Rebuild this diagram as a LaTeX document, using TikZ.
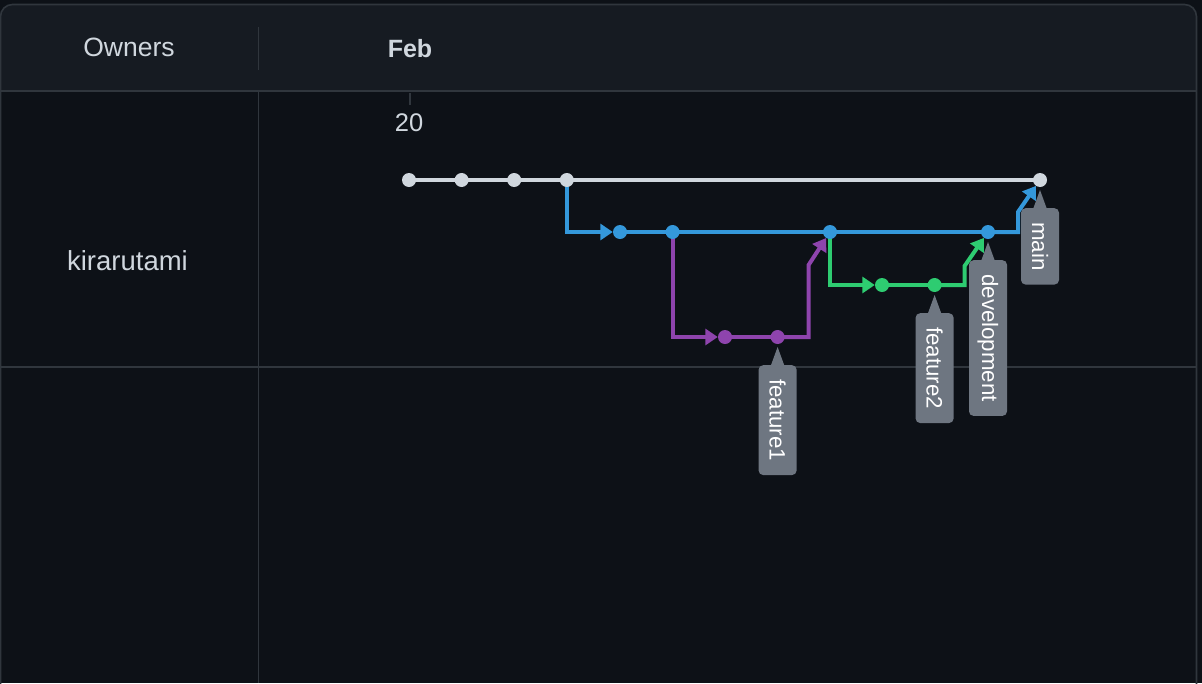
\documentclass[tikz,border=0pt]{standalone}
\usepackage{fontspec}
\setmainfont{Liberation Sans}
\usetikzlibrary{positioning,calc,arrows.meta,backgrounds}

\definecolor{bgdark}{HTML}{0D1117}
\definecolor{hdrdark}{HTML}{161B22}
\definecolor{rulegray}{HTML}{30363D}
\definecolor{txtgray}{HTML}{D0D7DE}
\definecolor{maingray}{HTML}{D0D7DE}
\definecolor{devblue}{HTML}{3498DB}
\definecolor{fonepurple}{HTML}{8E44AD}
\definecolor{ftwogreen}{HTML}{2ECC71}
\definecolor{tagfill}{HTML}{6E7681}

\newcommand{\branchtag}[3]{% commit, name, text
  \node[tagbox,anchor=west] (#2) at ([yshift=-28pt]#1.center) {#3};
  \fill[tagfill] ([xshift=-8pt,yshift=-4pt]#2.west) -- ([xshift=8pt,yshift=-4pt]#2.west)
    -- ([yshift=-10pt]#1.center) -- cycle;
}

\tikzset{
  commit/.style={circle,inner sep=0pt,minimum size=14pt},
  gcommit/.style={commit,fill=maingray},
  bcommit/.style={commit,fill=devblue},
  pcommit/.style={commit,fill=fonepurple},
  fcommit/.style={commit,fill=ftwogreen},
  branch/.style={line width=4pt},
  merge/.style={branch,-{Triangle[length=12.5pt,width=16pt]}},
  tagbox/.style={
    rotate=-90,
    fill=tagfill,
    rounded corners=4.5pt,
    text=white,
    font=\fontsize{22.3}{25}\selectfont,
    inner xsep=14pt,
    inner ysep=0pt,
    minimum height=38pt
  },
  hdr/.style={text=txtgray,font=\fontsize{26.5}{30}\selectfont},
  gridline/.style={draw=rulegray,line width=1.6pt}
}

\begin{document}
\begin{tikzpicture}[x=1pt,y=-1pt,node distance=52.6pt,on grid]
  \useasboundingbox (0,0) rectangle (1202,683);

  % header and owner
  \node[hdr] (own) at (129,47) {Owners};
  \node[hdr,font=\bfseries\fontsize{25}{30}\selectfont] (feb) at (410,49) {Feb};
  \node[hdr,font=\fontsize{25.5}{30}\selectfont] (day) at (409,123) {20};
  \node[hdr,font=\fontsize{27.5}{30}\selectfont] (usr) at (127.5,261) {kirarutami};

  % commits
  \node[gcommit] (g1) at (409,180) {};
  \node[gcommit,right=of g1] (g2) {};
  \node[gcommit,right=of g2] (g3) {};
  \node[gcommit,right=of g3] (g4) {};
  \node[gcommit] (g5) at (1040,180) {};
  \node[bcommit] (b1) at (620,232) {};
  \node[bcommit,right=of b1] (b2) {};
  \node[bcommit] (b3) at (830,232) {};
  \node[bcommit] (b4) at (988,232) {};
  \node[pcommit] (p1) at (725,337) {};
  \node[pcommit,right=of p1] (p2) {};
  \node[fcommit] (f1) at (882,285) {};
  \node[fcommit,right=of f1] (f2) {};

  \begin{scope}[on background layer]
    \fill[bgdark] (0,0) rectangle (1202,683);
    \begin{scope}
      \clip[rounded corners=12pt] (0.5,4.5) rectangle (1196.5,720);
      \fill[hdrdark] (0,0) rectangle (1202,91);
    \end{scope}
    \draw[gridline,rounded corners=12pt] (0.5,4.5) rectangle (1196.5,720);
    \draw[gridline] (0,91) -- (1197,91);
    \draw[gridline] (258.5,27) -- (258.5,70);
    \draw[gridline] (258.5,91) -- (258.5,683);
    \draw[gridline] (0,367) -- (1197,367);
    \draw[gridline] (410,93) -- (410,105);

    \draw[branch,maingray] (g1.center) -- (g5.center);
    \draw[merge,devblue] (g4.center) |- (b1);
    \draw[branch,devblue] (b1.center) -- (b4.center);
    \draw[merge,devblue] (b4.center) -- ++(30,0) -- ++(0,-20) -- (g5);
    \draw[merge,fonepurple] (b2.center) |- (p1);
    \draw[branch,fonepurple] (p1.center) -- (p2.center);
    \draw[merge,fonepurple] (p2.center) -- ++(31,0) -- ++(0,-72) -- (b3);
    \draw[merge,ftwogreen] (b3.center) |- (f1);
    \draw[branch,ftwogreen] (f1.center) -- (f2.center);
    \draw[merge,ftwogreen] (f2.center) -- ++(30,0) -- ++(0,-19) -- (b4);
  \end{scope}

  % branch labels
  \branchtag{p2}{t1}{feature1}
  \branchtag{f2}{t2}{feature2}
  \branchtag{b4}{t3}{development}
  \branchtag{g5}{t4}{main}
\end{tikzpicture}
\end{document}
